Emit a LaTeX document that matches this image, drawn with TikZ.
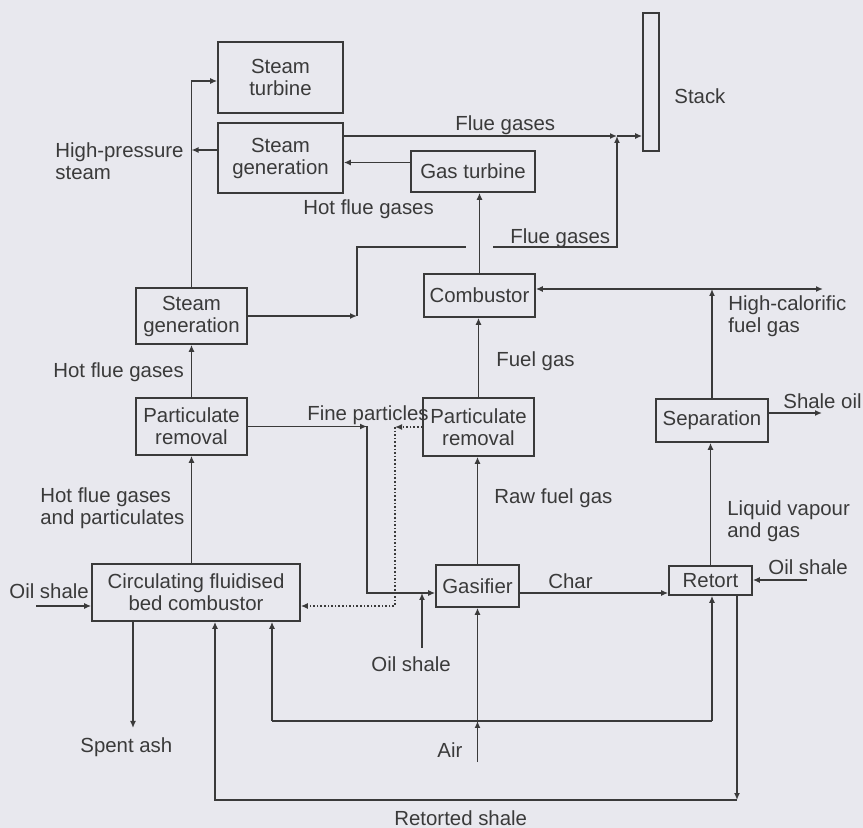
\documentclass[tikz,border=0pt]{standalone}
\usepackage{fontspec}
\setmainfont{Liberation Sans}
\usetikzlibrary{arrows.meta}
\definecolor{paper}{RGB}{232,232,238}
\definecolor{ink}{RGB}{58,58,58}
\tikzstyle{unit} = [draw=ink,line width=0.8pt,inner sep=0pt,align=center,text=ink]
\tikzstyle{lbl} = [inner sep=0pt,align=left,text=ink,anchor=base west]
\tikzstyle{flow} = [draw=ink,line width=0.8pt,-{Latex[length=3.5pt,width=3pt]}]
\tikzstyle{pipe} = [draw=ink,line width=0.8pt]

\begin{document}
\begin{tikzpicture}[x=0.5pt,y=-0.5pt,font=\fontsize{10.2}{11}\selectfont]
  \fill[paper] (0,0) rectangle (863,828);
  \useasboundingbox (0,0) rectangle (863,828);

  \node[unit,minimum width=62.5pt,minimum height=35.5pt] (turbine) at (280.5,77.5) {Steam\\turbine};
  \node[unit,minimum width=62.5pt,minimum height=35pt] (steamgen) at (280.5,158) {Steam\\generation};
  \node[unit,minimum width=8pt,minimum height=69pt] (stack) at (651,82) {};
  \node[unit,minimum width=62pt,minimum height=20.5pt] (gasturb) at (473,171.5) {Gas turbine};
  \node[unit,minimum width=55.5pt,minimum height=21.5pt] (combustor) at (479.5,295.5) {Combustor};
  \node[unit,minimum width=55.5pt,minimum height=28pt] (steamgen2) at (191.5,316) {Steam\\generation};
  \node[unit,minimum width=55.5pt,minimum height=28.5pt] (partrem1) at (191.5,426.5) {Particulate\\removal};
  \node[unit,minimum width=55.5pt,minimum height=29pt] (partrem2) at (478.5,427) {Particulate\\removal};
  \node[unit,minimum width=56pt,minimum height=21.5pt] (separation) at (712,420.5) {Separation};
  \node[unit,minimum width=104pt,minimum height=28.5pt] (cfbc) at (196,592.5) {Circulating fluidised\\bed combustor};
  \node[unit,minimum width=41.5pt,minimum height=21pt] (gasifier) at (477.5,586) {Gasifier};
  \node[unit,minimum width=41.5pt,minimum height=14.5pt] (retort) at (710.5,580.5) {Retort};

  \coordinate (hpturn) at (191.5,81);
  \coordinate (hpin) at (191.5,150);
  \coordinate (fgjoin) at (617,136);
  \coordinate (gtout) at ([yshift=4.5pt]gasturb.west);
  \coordinate (fg2a) at (357,316);
  \coordinate (fg2b) at (357,247);
  \coordinate (fgcut1) at (466,247);
  \coordinate (fgcut2) at (493,247);
  \coordinate (fg2c) at (617,247);
  \coordinate (hcjoin) at (712,289);
  \coordinate (hcout) at (823,289);
  \coordinate (sepout) at ([yshift=3.75pt]separation.east);
  \coordinate (oilout) at (822,413);
  \coordinate (oilR) at (807,580);
  \coordinate (fineturn) at (367,426.5);
  \coordinate (finedown) at (367,593);
  \coordinate (oilM) at (422,648);
  \coordinate (dotturn) at (395,427);
  \coordinate (dotdown) at (395,606);
  \coordinate (oilL) at (36,606);
  \coordinate (ash) at (133,728);
  \coordinate (air) at (477.5,762);
  \coordinate (airjoin) at (477.5,721);
  \coordinate (airL) at (272,721);
  \coordinate (airR) at (712,721);
  \coordinate (rsturn) at (737,800);
  \coordinate (rsL) at (215,800);

  \draw[flow] (steamgen.west |- hpin) -- (hpin);
  \draw[flow] (steamgen2.north) |- (turbine.west |- hpturn);
  \draw[flow] (steamgen.east |- fgjoin) -- (fgjoin);
  \draw[flow] (fgjoin) -- (stack.west |- fgjoin);
  \draw[flow] (gtout) -- (steamgen.east |- gtout);
  \draw[flow] (combustor.north) -- (combustor.north |- gasturb.south);
  \draw[flow] (steamgen2.east) -- (fg2a);
  \draw[pipe] (fg2a) -- (fg2b) -- (fgcut1);
  \draw[flow] (fgcut2) -- (fg2c) -- (fgjoin);
  \draw[flow] (partrem2.north) -- (partrem2.north |- combustor.south);
  \draw[flow] (gasifier.north) -- (gasifier.north |- partrem2.south);
  \draw[flow] (separation.north) -- (hcjoin);
  \draw[flow] (hcjoin) -- (combustor.east |- hcjoin);
  \draw[flow] (hcjoin) -- (hcout);
  \draw[flow] (sepout) -- (oilout |- sepout);
  \draw[flow] (retort.north) -- (retort.north |- separation.south);
  \draw[flow] (oilR) -- (retort.east |- oilR);
  \draw[flow] (gasifier.east |- finedown) -- (retort.west |- finedown);
  \draw[flow] (partrem1.east) -- (fineturn);
  \draw[flow] (fineturn) -- (finedown) -- (gasifier.west |- finedown);
  \draw[flow] (oilM) -- (oilM |- finedown);
  \draw[flow,densely dotted] (partrem2.west) -- (dotturn);
  \draw[flow,densely dotted] (dotturn) -- (dotdown) -- (cfbc.east |- dotdown);
  \draw[flow] (partrem1.south |- cfbc.north) -- (partrem1.south);
  \draw[flow] (partrem1.north) -- (steamgen2.south);
  \draw[flow] (oilL) -- (cfbc.west |- oilL);
  \draw[flow] (ash |- cfbc.south) -- (ash);
  \draw[flow] (air) -- (airjoin);
  \draw[flow] (airjoin) -- (gasifier.south);
  \draw[pipe] (airL) -- (airR);
  \draw[flow] (airL) -- (airL |- cfbc.south);
  \draw[flow] (airR) -- (airR |- retort.south);
  \draw[flow] (rsturn |- retort.south) -- (rsturn);
  \draw[flow] (rsturn) -- (rsL) -- (rsL |- cfbc.south);

  \node[lbl] (stacklbl) at (674,104) {Stack};
  \node[lbl] (hplbl) at (55,180) {High-pressure\\steam};
  \node[lbl] (hfg1) at (303,215) {Hot flue gases};
  \node[lbl] (fg1) at (455,131) {Flue gases};
  \node[lbl] (fg2) at (510,244) {Flue gases};
  \node[lbl] (hclbl) at (728,333) {High-calorific\\fuel gas};
  \node[lbl] (fuellbl) at (496,367) {Fuel gas};
  \node[lbl] (hfg2) at (53,378) {Hot flue gases};
  \node[lbl] (finelbl) at (307,421) {Fine particles};
  \node[lbl] (shaleoil) at (783,409) {Shale oil};
  \node[lbl] (hfgp) at (40,525) {Hot flue gases\\and particulates};
  \node[lbl] (rawlbl) at (494,504) {Raw fuel gas};
  \node[lbl] (lvlbl) at (727,538) {Liquid vapour\\and gas};
  \node[lbl] (oilLlbl) at (9,599) {Oil shale};
  \node[lbl] (oilRlbl) at (768,575) {Oil shale};
  \node[lbl] (charlbl) at (548,589) {Char};
  \node[lbl] (oilMlbl) at (371,672) {Oil shale};
  \node[lbl] (ashlbl) at (80,753) {Spent ash};
  \node[lbl] (airlbl) at (437,757) {Air};
  \node[lbl] (rslbl) at (394,826) {Retorted shale};
\end{tikzpicture}
\end{document}
